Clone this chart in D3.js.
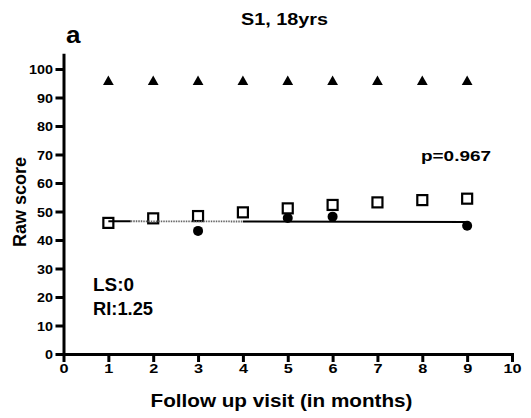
<!DOCTYPE html>
<html>
<head>
<meta charset="utf-8">
<script src="https://cdn.jsdelivr.net/npm/d3@7"></script>
<style>
  body { margin: 0; background: #fff; }
  text { font-family: "Liberation Sans", Arial, sans-serif; font-weight: bold; fill: #000; }
</style>
</head>
<body>
<div id="chart"></div>
<script>
// data
var visits = [1, 2, 3, 4, 5, 6, 7, 8, 9];
var triangleScores = [95.5, 95.5, 95.5, 95.5, 95.5, 95.5, 95.5, 95.5, 95.5];
var squareScores = [46.0, 47.6, 48.4, 49.7, 51.1, 52.3, 53.2, 54.0, 54.5];
var circleVisits = [1, 2, 3, 5, 6, 9];
var circleScores = [46.3, 47.5, 43.2, 47.7, 48.2, 45.0];
// fitted line, split where the source shows a grey dotted piece
var fitSolidA = [[1, 46.6], [1.5, 46.58]];
var fitDotted = [[1.5, 46.58], [4.0, 46.49]];
var fitSolidB = [[4.0, 46.49], [9, 46.3]];
var xTicks = [0, 1, 2, 3, 4, 5, 6, 7, 8, 9, 10];
var yTicks = [0, 10, 20, 30, 40, 50, 60, 70, 80, 90, 100];

var width = 531, height = 418;
var margin = { top: 54.75, right: 19, bottom: 64, left: 63.5 };

var svg = d3.select("#chart").append("svg")
    .attr("width", width)
    .attr("height", height);

var x = d3.scaleLinear().domain([0, 10]).range([margin.left, width - margin.right]);
var y = d3.scaleLinear().domain([0, 105]).range([height - margin.bottom, margin.top]);

// axes
var xAxis = d3.axisBottom(x).tickValues(xTicks).tickSize(8).tickPadding(2).tickSizeOuter(0);
var yAxis = d3.axisLeft(y).tickValues(yTicks).tickSize(8).tickPadding(3).tickSizeOuter(0);

var gx = svg.append("g")
    .attr("class", "axis x-axis")
    .attr("transform", "translate(0," + y(0) + ")")
    .call(xAxis);
var gy = svg.append("g")
    .attr("class", "axis y-axis")
    .attr("transform", "translate(" + x(0) + ",0)")
    .call(yAxis);

svg.selectAll(".axis path, .axis line")
    .attr("stroke", "#000")
    .attr("stroke-width", 3);
svg.selectAll(".axis .domain").attr("stroke-linecap", "square");

gx.selectAll("text")
    .style("font-size", "13px")
    .attr("transform", "scale(1.25,1)")
    .attr("x", 0);
gy.selectAll("text")
    .style("font-size", "12.5px")
    .attr("dy", "0.36em")
    .attr("transform", "scale(1.15,1)")
    .attr("x", -10.5 / 1.15);

var line = d3.line().x(d => x(d[0])).y(d => y(d[1]));

// circles
svg.append("g").selectAll("circle")
    .data(circleVisits)
    .enter().append("circle")
    .attr("cx", d => x(d))
    .attr("cy", (d, i) => y(circleScores[i]))
    .attr("r", 5)
    .attr("fill", "#000");

// squares
svg.append("g").selectAll("rect")
    .data(visits)
    .enter().append("rect")
    .attr("x", d => x(d) - 5)
    .attr("y", (d, i) => y(squareScores[i]) - 5)
    .attr("width", 10)
    .attr("height", 10)
    .attr("fill", "#fff")
    .attr("stroke", "#000")
    .attr("stroke-width", 2.2);

// fit line
svg.append("path").datum(fitSolidA).attr("d", line)
    .attr("fill", "none").attr("stroke", "#000").attr("stroke-width", 2);
svg.append("path").datum(fitDotted).attr("d", line)
    .attr("fill", "none").attr("stroke", "#666").attr("stroke-width", 1.8)
    .attr("stroke-dasharray", "1.5,1");
svg.append("path").datum(fitSolidB).attr("d", line)
    .attr("fill", "none").attr("stroke", "#000").attr("stroke-width", 2);

// triangles
var tri = d3.symbol().type(d3.symbolTriangle).size(50);
svg.append("g").selectAll("path")
    .data(visits)
    .enter().append("path")
    .attr("d", tri)
    .attr("transform", (d, i) => "translate(" + x(d) + "," + y(triangleScores[i]) + ")")
    .attr("fill", "#000");

// texts
function label(txt, px, py, size, len, anchor) {
    var t = svg.append("text")
        .attr("x", px).attr("y", py)
        .style("font-size", size + "px")
        .attr("text-anchor", anchor || "start")
        .text(txt);
    if (len) t.attr("textLength", len).attr("lengthAdjust", "spacingAndGlyphs");
    return t;
}

label("S1, 18yrs", 284.5, 25, 17, 87, "middle");
label("a", 66, 42.5, 23, 14.5);
label("p=0.967", 421, 161, 15, 70);
label("LS:0", 93, 291, 18, 41);
label("RI:1.25", 93, 314.5, 18, 60);
label("Follow up visit (in months)", 281.5, 406.5, 18, 262, "middle");

svg.append("text")
    .attr("transform", "translate(25.5,202) rotate(-90)")
    .attr("text-anchor", "middle")
    .style("font-size", "17.5px")
    .attr("textLength", 90)
    .attr("lengthAdjust", "spacingAndGlyphs")
    .text("Raw score");
</script>
</body>
</html>
